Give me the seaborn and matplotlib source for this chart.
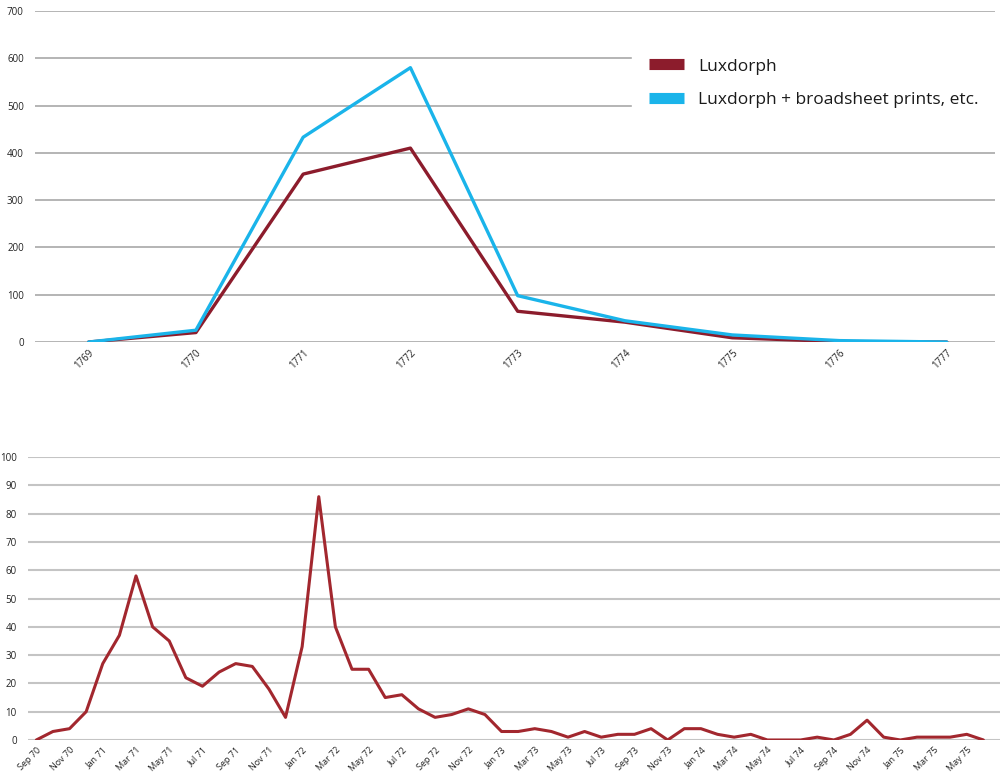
import matplotlib
matplotlib.use("Agg")
import matplotlib.pyplot as plt
import seaborn as sns
import pandas as pd
from matplotlib.lines import Line2D

# ---------------- data ----------------
years = [1769, 1770, 1771, 1772, 1773, 1774, 1775, 1776, 1777]
luxdorph = [0, 20, 355, 410, 65, 42, 9, 1, 0]
luxdorph_plus = [0, 25, 433, 580, 98, 45, 15, 3, 0]

month_names = ["Jan", "Feb", "Mar", "Apr", "May", "Jun",
               "Jul", "Aug", "Sep", "Oct", "Nov", "Dec"]
monthly_values = [
    0, 3, 4, 10,                                   # Sep-Dec 1770
    27, 37, 58, 40, 35, 22, 19, 24, 27, 26, 18, 8,  # 1771
    33, 86, 40, 25, 25, 15, 16, 11, 8, 9, 11, 9,    # 1772
    3, 3, 4, 3, 1, 3, 1, 2, 2, 4, 0, 4,             # 1773
    4, 2, 1, 2, 0, 0, 0, 1, 0, 2, 7, 1,             # 1774
    0, 1, 1, 1, 2, 0,                               # Jan-Jun 1775
]
start_month, start_year = 8, 70  # Sep 70 (0-based month index)
month_labels = []
for i in range(len(monthly_values)):
    m = (start_month + i) % 12
    y = start_year + (start_month + i) // 12
    month_labels.append(f"{month_names[m]} {y}")

series_names = ["Luxdorph", "Luxdorph + broadsheet prints, etc."]
red = "#8C1C2C"
blue = "#1AB4EA"
red2 = "#A2272E"

# ---------------- style ----------------
sns.set_theme(style="white")
plt.rcParams["font.family"] = ["Open Sans", "DejaVu Sans"]

fig = plt.figure(figsize=(10, 7.8), dpi=100)
ax1 = fig.add_axes([0.035, 0.5615, 0.96, 0.4245])
ax2 = fig.add_axes([0.028, 0.0513, 0.972, 0.3627])

# ---------------- top chart ----------------
df_top = pd.DataFrame({"year": years, "Luxdorph": luxdorph, "plus": luxdorph_plus})
sns.lineplot(data=df_top, x="year", y="Luxdorph", ax=ax1, color=red, linewidth=2.4, zorder=3)
sns.lineplot(data=df_top, x="year", y="plus", ax=ax1, color=blue, linewidth=2.4, zorder=4)
ax1.set_xlim(1768.5, 1777.45)
ax1.set_ylim(0, 700)
ax1.set_yticks(range(0, 701, 100))
ax1.set_xticks(years)
ax1.set_xticklabels([str(y) for y in years], rotation=45, ha="right",
                    rotation_mode="anchor", fontsize=7, color="#222222")
ax1.tick_params(axis="y", labelsize=7, labelcolor="#222222", length=0, pad=8)
ax1.tick_params(axis="x", length=0, pad=4)
ax1.yaxis.grid(True, color="#a8a8a8", linewidth=1.2)
ax1.set_axisbelow(True)
for s in ax1.spines.values():
    s.set_visible(False)
ax1.set_xlabel("")
ax1.set_ylabel("")

handles = [Line2D([0], [0], color=red, linewidth=8, solid_capstyle="butt"),
           Line2D([0], [0], color=blue, linewidth=8, solid_capstyle="butt")]
leg = ax1.legend(handles, series_names, loc="upper left",
                 bbox_to_anchor=(0.622, 0.909), frameon=True, fontsize=12.5,
                 handlelength=2.0, handletextpad=0.8, labelspacing=1.0,
                 borderpad=1.0, borderaxespad=0.0, framealpha=1.0)
leg.get_frame().set_edgecolor("white")
leg.get_frame().set_facecolor("white")
leg.set_zorder(5)
for t in leg.get_texts():
    t.set_color("#1a1a1a")

# ---------------- bottom chart ----------------
df_bot = pd.DataFrame({"idx": range(len(monthly_values)), "value": monthly_values})
sns.lineplot(data=df_bot, x="idx", y="value", ax=ax2, color=red2, linewidth=2.2)
ax2.set_xlim(-0.5, 58)
ax2.set_ylim(0, 100)
ax2.set_yticks(range(0, 101, 10))
tick_pos = list(range(0, len(monthly_values), 2))
ax2.set_xticks(tick_pos)
ax2.set_xticklabels([month_labels[i] for i in tick_pos], rotation=45, ha="right",
                    rotation_mode="anchor", fontsize=6.5, color="#222222")
ax2.tick_params(axis="y", labelsize=7, labelcolor="#222222", length=0, pad=8)
ax2.tick_params(axis="x", length=0, pad=4)
ax2.yaxis.grid(True, color="#c4c4c4", linewidth=1.5)
ax2.set_axisbelow(True)
for s in ax2.spines.values():
    s.set_visible(False)
ax2.set_xlabel("")
ax2.set_ylabel("")

fig.savefig("out.png", dpi=100, facecolor="white")
